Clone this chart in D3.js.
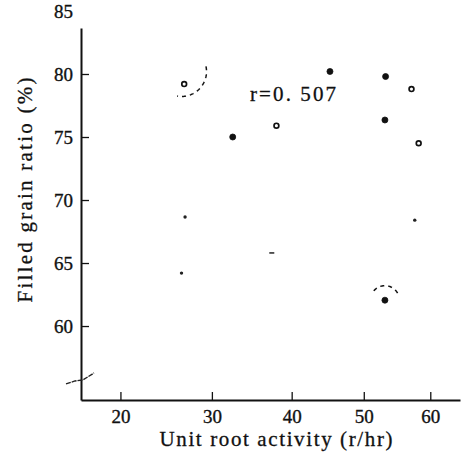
<!DOCTYPE html>
<html>
<head>
<meta charset="utf-8">
<script src="https://cdn.jsdelivr.net/npm/d3@7"></script>
<style>
  body { margin: 0; background: #fff; }
</style>
</head>
<body>
<div id="chart"></div>
<script>
// unit root activity (r/hr) and filled grain ratio (%)
var activity = [26.8, 32.5, 38.0, 45.2, 53.2, 57.1, 53.1, 58.2, 26.9, 57.6, 26.5, 37.4, 53.1];
var filled   = [79.2, 75.0, 75.9, 80.2, 79.8, 78.8, 76.35, 74.5, 68.65, 68.4, 64.2, 65.8, 62.05];
var glyph    = ["ring", "dot", "ring", "dot", "dot", "ring", "dot", "ring", "speck", "speck", "speck", "dash", "dot"];

var xTicks = [20, 30, 40, 50, 60];
var yTicks = [60, 65, 70, 75, 80, 85];

// dashed grouping arcs drawn in the original (centre in data units)
var groupArcs = [
    { x: 26.5, y: 80.2, from: -12, to: 100 },
    { x: 53.1, y: 62.05, from: -140, to: -15 }
];
var corrText = "r=0. 507";

var serif = "'Liberation Serif', 'Times New Roman', Tinos, 'DejaVu Serif', serif";

function init(){
    var w = 462;
    var h = 463;

    var svg = d3.select("#chart")
                .append("svg")
                .attr("width", w)
                .attr("height", h)
                .style("font-family", serif);

    // the printed x axis is compressed toward the high end
    var xScale = d3.scalePow().exponent(0.6)
                .domain([16.2, 64.7])
                .range([81, 460]);

    var yScale = d3.scaleLinear()
                .domain([54.13, 83.65])
                .range([400, 28]);

    var xAxis = d3.axisBottom(xScale)
                .tickValues(xTicks)
                .tickSizeInner(-8)
                .tickSizeOuter(0)
                .tickPadding(10)
                .tickFormat(d3.format("d"));

    var yAxis = d3.axisLeft(yScale)
                .tickValues(yTicks)
                .tickSizeInner(-8)
                .tickSizeOuter(0)
                .tickPadding(8)
                .tickFormat(d3.format("d"));

    var gx = svg.append("g")
        .attr("transform", `translate(0,${yScale.range()[0]})`)
        .call(xAxis);

    var gy = svg.append("g")
        .attr("transform", `translate(${xScale.range()[0]},0)`)
        .call(yAxis);

    [gx, gy].forEach(function(g){
        g.attr("font-family", null).style("font-family", serif).attr("font-size", 19);
        g.select(".domain").attr("stroke", "#111").attr("stroke-width", 2);
        g.selectAll(".tick line").attr("stroke", "#111").attr("stroke-width", 1.3);
        g.selectAll(".tick text").attr("fill", "#111")
            .attr("stroke", "#111").attr("stroke-width", 0.35)
            .style("font-family", serif);
    });
    // no tick mark at 85, only the label above the axis end
    gy.selectAll(".tick").filter(function(d){ return d === 85; })
        .select("line").remove();

    // axis break on the y axis
    var by = yScale(55.8);
    var bx = xScale.range()[0];
    svg.append("path")
        .attr("d", `M${bx - 15},${by + 5} L${bx - 6},${by + 2} L${bx + 2},${by + 1} L${bx + 13},${by - 6}`)
        .attr("fill", "none")
        .attr("stroke", "#222")
        .attr("stroke-width", 1.4)
        .attr("stroke-dasharray", "5,1");

    // points
    var pts = activity.map(function(d, i){
        return { x: d, y: filled[i], g: glyph[i] };
    });

    svg.selectAll(".pt")
        .data(pts.filter(function(d){ return d.g === "dot" || d.g === "ring"; }))
        .enter()
        .append("circle")
        .attr("class", "pt")
        .attr("cx", function(d){ return xScale(d.x); })
        .attr("cy", function(d){ return yScale(d.y); })
        .attr("r", function(d){ return d.g === "dot" ? 3 : 2.4; })
        .attr("fill", function(d){ return d.g === "dot" ? "#111" : "#fff"; })
        .attr("stroke", "#111")
        .attr("stroke-width", function(d){ return d.g === "dot" ? 0.8 : 1.7; });

    svg.selectAll(".speck")
        .data(pts.filter(function(d){ return d.g === "speck"; }))
        .enter()
        .append("circle")
        .attr("class", "speck")
        .attr("cx", function(d){ return xScale(d.x); })
        .attr("cy", function(d){ return yScale(d.y); })
        .attr("r", 1.7)
        .attr("fill", "#222");

    svg.selectAll(".dash")
        .data(pts.filter(function(d){ return d.g === "dash"; }))
        .enter()
        .append("line")
        .attr("class", "dash")
        .attr("x1", function(d){ return xScale(d.x) - 2.5; })
        .attr("x2", function(d){ return xScale(d.x) + 2.5; })
        .attr("y1", function(d){ return yScale(d.y); })
        .attr("y2", function(d){ return yScale(d.y); })
        .attr("stroke", "#222")
        .attr("stroke-width", 1.5);

    // dashed arcs
    var arcLine = d3.line();
    groupArcs.forEach(function(a, i){
        var r = i === 0 ? 25 : 14.5;
        var cx = xScale(a.x), cy = yScale(a.y);
        var pts2 = d3.range(a.from, a.to + 1, 2).map(function(t){
            var rad = t * Math.PI / 180;
            return [cx + r * Math.cos(rad), cy + r * Math.sin(rad)];
        });
        svg.append("path")
            .attr("d", arcLine(pts2))
            .attr("fill", "none")
            .attr("stroke", "#111")
            .attr("stroke-width", 1.5)
            .attr("stroke-dasharray", "4,4");
    });

    // correlation label
    svg.append("text")
        .attr("x", 250)
        .attr("y", 101)
        .attr("font-size", 21)
        .attr("fill", "#111")
        .attr("stroke", "#111").attr("stroke-width", 0.3)
        .attr("textLength", 86)
        .attr("lengthAdjust", "spacing")
        .text(corrText);

    // axis titles
    svg.append("text")
        .attr("x", 276)
        .attr("y", 446)
        .attr("text-anchor", "middle")
        .attr("font-size", 21)
        .attr("fill", "#111")
        .attr("stroke", "#111").attr("stroke-width", 0.3)
        .attr("textLength", 233)
        .attr("lengthAdjust", "spacing")
        .text("Unit root activity (r/hr)");

    svg.append("text")
        .attr("transform", "translate(32,190) rotate(-90)")
        .attr("text-anchor", "middle")
        .attr("font-size", 21)
        .attr("fill", "#111")
        .attr("stroke", "#111").attr("stroke-width", 0.3)
        .attr("textLength", 225)
        .attr("lengthAdjust", "spacing")
        .text("Filled grain ratio (%)");
}
window.onload = init;
</script>
</body>
</html>
